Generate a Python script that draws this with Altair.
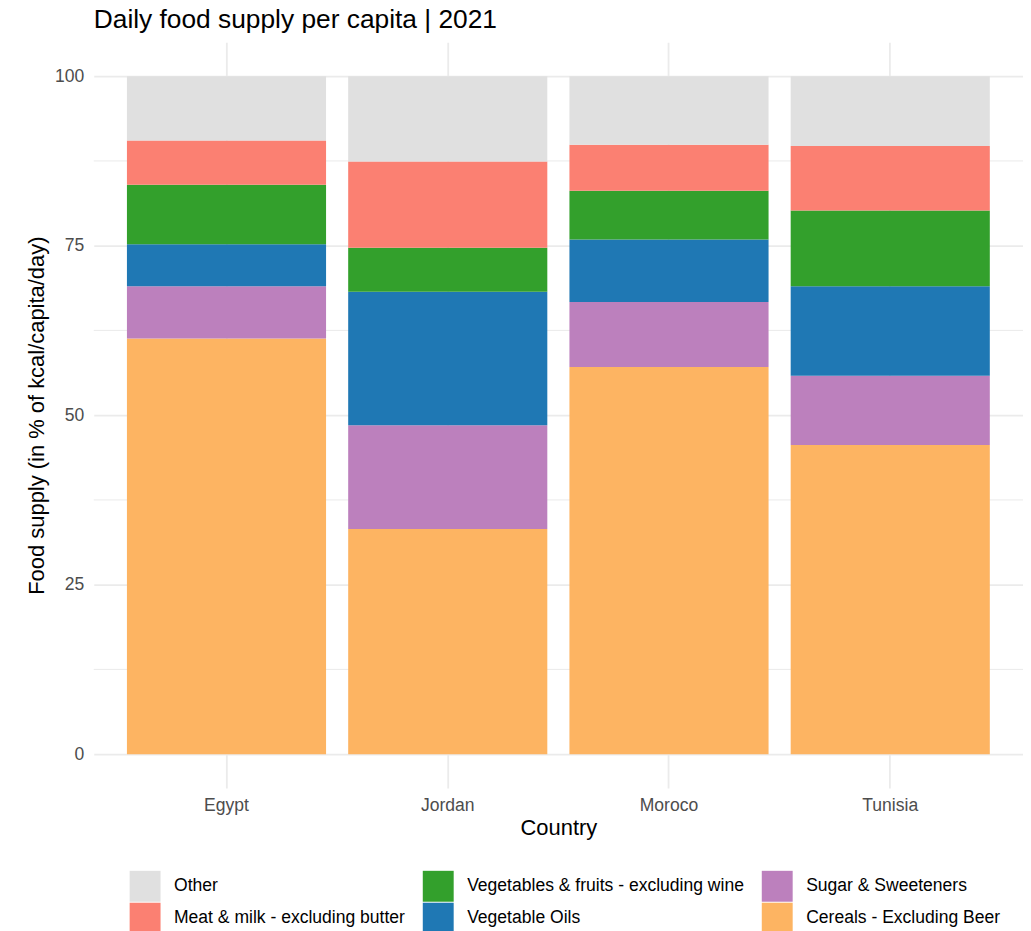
import altair as alt
import pandas as pd

countries = ["Egypt", "Jordan", "Moroco", "Tunisia"]

# stack order bottom -> top
stack_groups = [
    "Cereals - Excluding Beer",
    "Sugar & Sweeteners",
    "Vegetable Oils",
    "Vegetables & fruits - excluding wine",
    "Meat & milk - excluding butter",
    "Other",
]

cereals = [61.3, 33.2, 57.1, 45.6]
sugar = [7.7, 15.3, 9.6, 10.2]
oils = [6.2, 19.7, 9.2, 13.2]
veg_fruits = [8.8, 6.5, 7.2, 11.2]
meat_milk = [6.5, 12.7, 6.8, 9.5]
other = [9.5, 12.6, 10.1, 10.3]

series = [cereals, sugar, oils, veg_fruits, meat_milk, other]

# legend order (column-major, 3 columns x 2 rows)
legend_order = [
    "Other",
    "Meat & milk - excluding butter",
    "Vegetables & fruits - excluding wine",
    "Vegetable Oils",
    "Sugar & Sweeteners",
    "Cereals - Excluding Beer",
]
legend_colors = ["#E0E0E0", "#FB8072", "#33A02C", "#1F78B4", "#BC80BD", "#FDB462"]

y_major = [0, 25, 50, 75, 100]
y_minor = [12.5, 37.5, 62.5, 87.5]

rows = []
for rank, (grp, vals) in enumerate(zip(stack_groups, series)):
    for c, v in zip(countries, vals):
        rows.append({"Country": c, "Group": grp, "value": v, "rank": rank})
df = pd.DataFrame(rows)
minor_df = pd.DataFrame({"y": y_minor})

W, H = 932, 748
yscale = alt.Scale(domain=[-5, 105], nice=False, zero=False)
Y_TITLE = "Food supply (in % of kcal/capita/day)"


def y_axis():
    return alt.Axis(
        title=Y_TITLE,
        values=y_major,
        labelPadding=10,
        grid=True,
        titleX=-50,
        titleY=H / 2,
        titleAngle=270,
        titleAlign="center",
        titleBaseline="alphabetic",
    )


minor = alt.Chart(minor_df).mark_rule(color="#EBEBEB", strokeWidth=1).encode(
    y=alt.Y("y:Q", scale=yscale, axis=y_axis(), title=Y_TITLE)
)

bars = alt.Chart(df).mark_bar(strokeWidth=0).encode(
    x=alt.X(
        "Country:N",
        sort=countries,
        scale=alt.Scale(paddingInner=0.1, paddingOuter=0.15),
        axis=alt.Axis(
            title="Country",
            labelAngle=0,
            labelBaseline="alphabetic",
            labelPadding=23,
            grid=True,
            bandPosition=0.5,
            titleY=47,
            titleX=W / 2,
            titleBaseline="alphabetic",
        ),
    ),
    y=alt.Y(
        "value:Q",
        stack="zero",
        scale=yscale,
        axis=y_axis(),
        title=Y_TITLE,
    ),
    color=alt.Color(
        "Group:N",
        scale=alt.Scale(domain=legend_order, range=legend_colors),
        legend=alt.Legend(
            title=None,
            orient="none",
            legendX=36,
            legendY=831,
            columns=3,
            symbolType="square",
            symbolSize=961,
            symbolStrokeWidth=0,
            symbolOpacity=1,
            labelFontSize=17.6,
            labelColor="#000000",
            labelLimit=400,
            labelOffset=13.5,
            rowPadding=1,
            columnPadding=17,
            padding=0,
        ),
    ),
    order=alt.Order("rank:Q", sort="ascending"),
)

chart = (
    alt.layer(minor, bars)
    .properties(
        width=W,
        height=H,
        title=alt.TitleParams(
            "Daily food supply per capita | 2021",
            anchor="start",
            frame="group",
            fontSize=26.4,
            fontWeight="normal",
            color="#000000",
            offset=9,
        ),
        padding={"left": 86, "top": 33, "right": 0, "bottom": 142},
        autosize=alt.AutoSizeParams(type="none"),
    )
    .configure(font="Liberation Sans")
    .configure_view(stroke=None)
    .configure_axis(
        domain=False,
        ticks=False,
        tickSize=0,
        gridColor="#EBEBEB",
        gridWidth=1.8,
        labelFontSize=17.6,
        labelColor="#4D4D4D",
        titleFontSize=22,
        titleFontWeight="normal",
        titleColor="#000000",
    )
)

chart.save("out.html", embed_options={"renderer": "svg", "actions": False})
